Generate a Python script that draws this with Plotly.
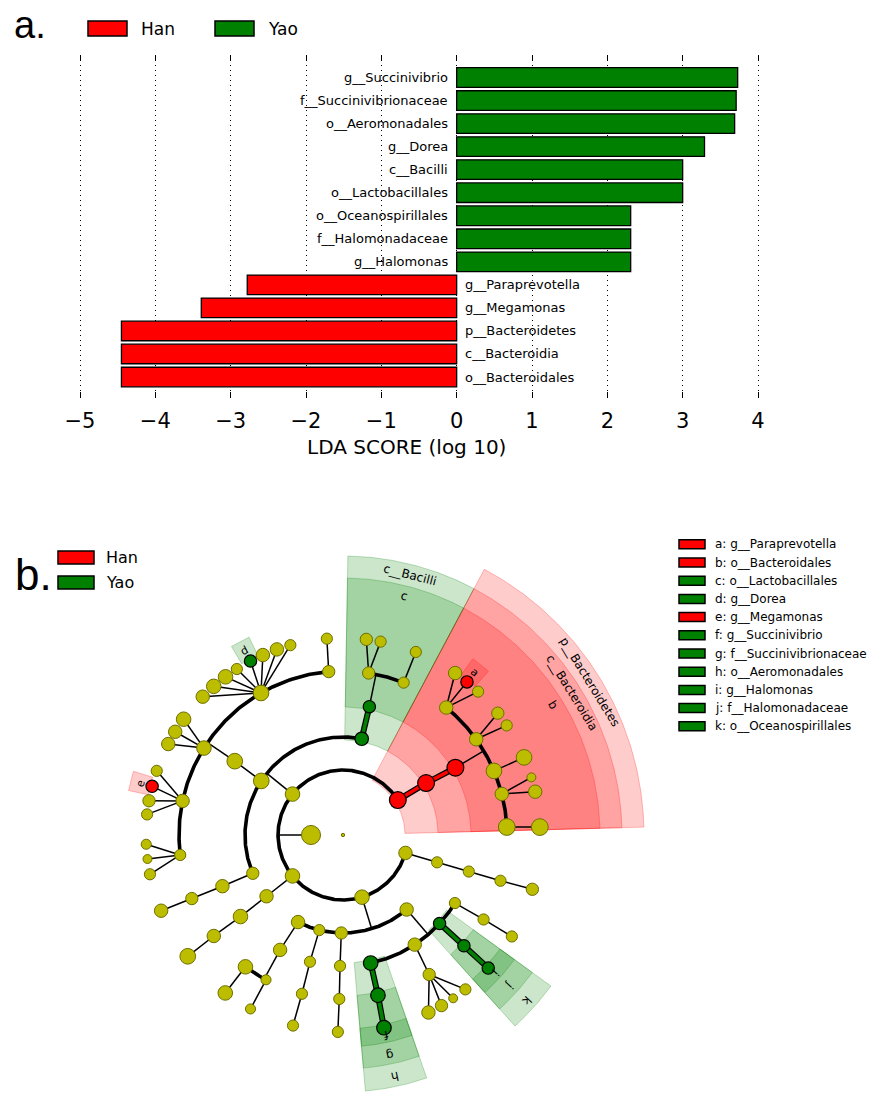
import math
import plotly.graph_objects as go

W, H = 869, 1093

# ---------------- LDA score bar chart ----------------
taxa = [
    "g__Succinivibrio", "f__Succinivibrionaceae", "o__Aeromonadales", "g__Dorea",
    "c__Bacilli", "o__Lactobacillales", "o__Oceanospirillales", "f__Halomonadaceae",
    "g__Halomonas", "g__Paraprevotella", "g__Megamonas", "p__Bacteroidetes",
    "c__Bacteroidia", "o__Bacteroidales",
]
lda_scores = [3.73, 3.71, 3.69, 3.29, 3.00, 3.00, 2.31, 2.31, 2.31,
              -2.78, -3.39, -4.45, -4.45, -4.45]
enriched_in = ["Yao"] * 9 + ["Han"] * 5
lda_ticks = [-5, -4, -3, -2, -1, 0, 1, 2, 3, 4]

groups = ["Han", "Yao"]
GROUP_COLORS = {"Han": "#ff0000", "Yao": "#008000"}
GROUP_RGB = {"Han": (255, 0, 0), "Yao": (0, 128, 0)}

# ---------------- cladogram ----------------
# radius of each taxonomic rank ring: root, kingdom, phylum, class, order, family, genus
LEVEL_RADIUS = [0, 32, 65, 98, 131, 164, 197]
# outer edge and label ring of the clade highlight bands, per rank
BAND_OUTER = {2: 301, 3: 279, 4: 257, 5: 234, 6: 212}
BAND_LABEL = {2: 290, 3: 269, 4: 247, 5: 225, 6: 205}
NODE_SCALE = 1.12

# (id, parent, angle in degrees, node size, enriched group)
kingdom = [("k__Bacteria", "root", 180, 17, None)]
phyla = [
    ("p__Bacteroidetes", "k__Bacteria", 32.5, 15, "Han"),
    ("p2", "k__Bacteria", 141, 13, None),
    ("p3", "k__Bacteria", 219, 13, None),
    ("p4", "k__Bacteria", 287, 13, None),
    ("p5", "k__Bacteria", 344, 12, None),
]
classes = [
    ("c__Bacteroidia", "p__Bacteroidetes", 32, 15, "Han"),
    ("c__Bacilli", "p2", 79, 12, "Yao"),
    ("c2", "p2", 146.5, 14, None),
    ("c3", "p2", 203, 11, None),
    ("c4", "p3", 218.7, 12, None),
    ("c5", "p4", 242.7, 12, None),
    ("c6", "p4", 256, 10, None),
    ("c7", "p4", 269, 11, None),
    ("c8", "p4", 310.5, 12, None),
    ("c9", "p5", 343.8, 10, None),
]
orders = [
    ("o__Bacteroidales", "c__Bacteroidia", 30.9, 15, "Han"),
    ("o__Lactobacillales", "c__Bacilli", 78.4, 11, "Yao"),
    ("o2", "c2", 145.7, 14, None),
    ("o3", "c3", 203, 12, None),
    ("o4", "c4", 218.5, 13, None),
    ("o5", "c5", 241.3, 12, None),
    ("o6", "c6", 255.4, 10, None),
    ("o7", "c7", 268.7, 10, None),
    ("o__Aeromonadales", "c8", 282.2, 13, "Yao"),
    ("o8", "c8", 303.2, 12, None),
    ("o__Oceanospirillales", "c8", 317.5, 11, "Yao"),
    ("o9", "c8", 328.7, 10, None),
    ("o10", "c9", 343.8, 10, None),
]
families = [
    ("f1", "o__Bacteroidales", 51, 12, None),
    ("f2", "o__Bacteroidales", 35.7, 12, None),
    ("f3", "o__Bacteroidales", 23, 14, None),
    ("f4", "o__Bacteroidales", 14.5, 12, None),
    ("f5", "o__Bacteroidales", 2.8, 15, None),
    ("f6", "o__Lactobacillales", 81, 11, None),
    ("f7", "o__Lactobacillales", 68.3, 10, None),
    ("f8", "o2", 95, 11, None),
    ("f9", "o2", 120, 14, None),
    ("f10", "o2", 148, 13, None),
    ("f11", "o2", 168, 12, None),
    ("f12", "o2", 187, 10, None),
    ("f13", "o3", 202.8, 11, None),
    ("f14", "o4", 218, 12, None),
    ("f15", "o5", 242, 9, None),
    ("f16", "o5", 233.5, 13, None),
    ("f17", "o6", 255.5, 10, None),
    ("f18", "o7", 268.7, 10, None),
    ("f__Succinivibrionaceae", "o__Aeromonadales", 282.3, 13, "Yao"),
    ("f19", "o8", 301.7, 11, None),
    ("f__Halomonadaceae", "o__Oceanospirillales", 317.5, 11, "Yao"),
    ("f20", "o9", 329, 10, None),
    ("f21", "o10", 343.8, 10, None),
]
genera = [
    ("g1", "f1", 55.3, 12, None),
    ("g__Paraprevotella", "f1", 51, 11, "Han"),
    ("g2", "f1", 46.7, 10, None),
    ("g3", "f2", 38.2, 11, None),
    ("g4", "f2", 33.8, 10, None),
    ("g5", "f3", 23.2, 14, None),
    ("g6", "f4", 17, 8, None),
    ("g7", "f4", 12.7, 12, None),
    ("g8", "f5", 2.3, 15, None),
    ("g9", "f6", 83.2, 11, None),
    ("g10", "f6", 79, 10, None),
    ("g11", "f7", 68.3, 10, None),
    ("g12", "f8", 94.7, 10, None),
    ("g13", "f9", 135.4, 12, None),
    ("g14", "f9", 131, 13, None),
    ("g15", "f9", 126.6, 13, None),
    ("g16", "f9", 122.6, 10, None),
    ("g__Dorea", "f9", 118, 11, "Yao"),
    ("g17", "f9", 114, 12, None),
    ("g18", "f9", 109.6, 12, None),
    ("g19", "f9", 105.5, 10, None),
    ("g20", "f10", 144, 13, None),
    ("g21", "f10", 148.4, 12, None),
    ("g22", "f10", 152.5, 12, None),
    ("g23", "f11", 161, 10, None),
    ("g__Megamonas", "f11", 165.7, 11, "Han"),
    ("g24", "f11", 170, 11, None),
    ("g25", "f11", 174, 10, None),
    ("g26", "f12", 182.7, 9, None),
    ("g27", "f12", 187, 8, None),
    ("g28", "f12", 191.5, 10, None),
    ("g29", "f13", 202.6, 12, None),
    ("g30", "f14", 218, 14, None),
    ("g31", "f15", 242, 9, None),
    ("g32", "f16", 233.3, 13, None),
    ("g33", "f17", 255.3, 10, None),
    ("g34", "f18", 268.5, 10, None),
    ("g__Succinivibrio", "f__Succinivibrionaceae", 282, 13, "Yao"),
    ("g35", "f19", 295.7, 12, None),
    ("g36", "f19", 300, 11, None),
    ("g37", "f19", 304, 8, None),
    ("g38", "f19", 308.4, 10, None),
    ("g__Halomonas", "f__Halomonadaceae", 317.5, 11, "Yao"),
    ("g39", "f20", 329, 10, None),
    ("g40", "f21", 344, 11, None),
]

# highlighted clades drawn as bands: (label, group, rank level, start deg, end deg)
clade_bands = [
    ("p__Bacteroidetes", "Han", 2, 1.5, 62),
    ("c__Bacteroidia", "Han", 3, 1.5, 62),
    ("b", "Han", 4, 1.5, 62),
    ("c__Bacilli", "Yao", 3, 62, 89),
    ("c", "Yao", 4, 62, 89),
    ("h", "Yao", 4, 275, 289),
    ("g", "Yao", 5, 275, 289),
    ("f", "Yao", 6, 275, 289),
    ("k", "Yao", 4, 312, 324),
    ("j", "Yao", 5, 312, 324),
    ("i", "Yao", 6, 312, 324),
]
# highlighted leaves drawn as small tagged boxes: (letter, node id)
leaf_tags = [("a", "g__Paraprevotella"), ("d", "g__Dorea"), ("e", "g__Megamonas")]

# key of the cladogram letters
clade_key = [
    ("a", "g__Paraprevotella", "Han"),
    ("b", "o__Bacteroidales", "Han"),
    ("c", "o__Lactobacillales", "Yao"),
    ("d", "g__Dorea", "Yao"),
    ("e", "g__Megamonas", "Han"),
    ("f", "g__Succinivibrio", "Yao"),
    ("g", "f__Succinivibrionaceae", "Yao"),
    ("h", "o__Aeromonadales", "Yao"),
    ("i", "g__Halomonas", "Yao"),
    ("j", "f__Halomonadaceae", "Yao"),
    ("k", "o__Oceanospirillales", "Yao"),
]

# ---------------- helpers ----------------
FONT = "DejaVu Sans"


def px(x):
    return x / W


def py(y):
    return 1 - y / H


def polar(r, deg):
    a = math.radians(deg)
    return r * math.cos(a), r * math.sin(a)


def arc_points(r, a0, a1, step=0.5):
    n = max(2, int(abs(a1 - a0) / step) + 1)
    pts = [polar(r, a0 + (a1 - a0) * k / (n - 1)) for k in range(n)]
    return [p[0] for p in pts], [p[1] for p in pts]


def rgba(group, alpha):
    r, g, b = GROUP_RGB[group]
    return f"rgba({r},{g},{b},{alpha})"


def text_angle(deg):
    t = 90 - deg
    while t > 180:
        t -= 360
    while t <= -180:
        t += 360
    return t


def paper_text(x, y, text, size, family=FONT, xanchor="center"):
    return dict(x=px(x), y=py(y), xref="paper", yref="paper", text=text,
                showarrow=False, xanchor=xanchor, yanchor="middle",
                font=dict(family=family, size=size, color="black"))


fig = go.Figure()

# ---- bars ----
rows = list(range(len(taxa)))
for grp in groups:
    idx = [i for i in rows if enriched_in[i] == grp]
    fig.add_trace(go.Bar(
        x=[lda_scores[i] for i in idx], y=[rows[i] for i in idx],
        orientation="h", width=0.85, name=grp, showlegend=False,
        marker=dict(color=GROUP_COLORS[grp], line=dict(color="black", width=1.3)),
        xaxis="x", yaxis="y", hoverinfo="skip",
    ))

annotations = []
for i, (name, val) in enumerate(zip(taxa, lda_scores)):
    annotations.append(dict(
        x=0, y=rows[i], xref="x", yref="y", text=name, showarrow=False,
        xanchor="right" if val > 0 else "left", yanchor="middle",
        xshift=-7 if val > 0 else 6,
        font=dict(family=FONT, size=13, color="black"),
    ))

# ---- cladogram tree ----
all_nodes = {"root": ("root", None, 0, 3, None, 0)}
for level, table in enumerate([kingdom, phyla, classes, orders, families, genera], start=1):
    for nid, parent, ang, size, grp in table:
        all_nodes[nid] = (nid, parent, ang, size, grp, level)

children = {k: [] for k in all_nodes}
for nid, rec in all_nodes.items():
    if rec[1] is not None:
        children[rec[1]].append(nid)


def node_xy(nid):
    rec = all_nodes[nid]
    return polar(LEVEL_RADIUS[rec[5]], rec[2])


# highlight bands
shapes = []
for label, grp, level, a0, a1 in clade_bands:
    r_in = LEVEL_RADIUS[level] - 3
    r_out = BAND_OUTER[level]
    xi, yi = arc_points(r_in, a0, a1)
    xo, yo = arc_points(r_out, a1, a0)
    fig.add_trace(go.Scatter(
        x=xi + xo + [xi[0]], y=yi + yo + [yi[0]], mode="lines", fill="toself",
        fillcolor=rgba(grp, 0.2), line=dict(color=rgba(grp, 0.25), width=1),
        xaxis="x2", yaxis="y2", showlegend=False, hoverinfo="skip",
    ))
    mid = (a0 + a1) / 2
    lx, ly = polar(BAND_LABEL[level], mid)
    annotations.append(dict(
        x=lx, y=ly, xref="x2", yref="y2", text=label, showarrow=False,
        xanchor="center", yanchor="middle",
        textangle=text_angle(mid), font=dict(family=FONT, size=12, color="black"),
    ))

for letter, nid in leaf_tags:
    rec = all_nodes[nid]
    grp, ang = rec[4], rec[2]
    xi, yi = arc_points(199, ang - 2.6, ang + 2.6, 0.2)
    xo, yo = arc_points(219, ang + 2.6, ang - 2.6, 0.2)
    fig.add_trace(go.Scatter(
        x=xi + xo + [xi[0]], y=yi + yo + [yi[0]], mode="lines", fill="toself",
        fillcolor=rgba(grp, 0.2), line=dict(color=rgba(grp, 0.25), width=1),
        xaxis="x2", yaxis="y2", showlegend=False, hoverinfo="skip",
    ))
    lx, ly = polar(209, ang)
    annotations.append(dict(
        x=lx, y=ly, xref="x2", yref="y2", text=letter, showarrow=False,
        xanchor="center", yanchor="middle",
        textangle=text_angle(ang), font=dict(family=FONT, size=11, color="black"),
    ))

# branches
thin_x, thin_y, arc_x, arc_y = [], [], [], []
colored = {g: ([], []) for g in groups}
for pid, kids in children.items():
    if pid == "root" or not kids:
        continue
    prec = all_nodes[pid]
    plevel = prec[5]
    px0, py0 = node_xy(pid)
    if len(kids) == 1 or plevel + 1 == 6:
        for c in kids:
            cx, cy = node_xy(c)
            cg = all_nodes[c][4]
            if cg is not None and cg == prec[4]:
                colored[cg][0].extend([px0, cx, None])
                colored[cg][1].extend([py0, cy, None])
            else:
                thin_x.extend([px0, cx, None])
                thin_y.extend([py0, cy, None])
    else:
        rc = LEVEL_RADIUS[plevel + 1]
        angs = [all_nodes[c][2] for c in kids] + [prec[2]]
        ax, ay = arc_points(rc, min(angs), max(angs))
        arc_x.extend(ax + [None])
        arc_y.extend(ay + [None])
        ex, ey = polar(rc, prec[2])
        thin_x.extend([px0, ex, None])
        thin_y.extend([py0, ey, None])

fig.add_trace(go.Scatter(x=thin_x, y=thin_y, mode="lines",
                         line=dict(color="black", width=1.5),
                         xaxis="x2", yaxis="y2", showlegend=False, hoverinfo="skip"))
fig.add_trace(go.Scatter(x=arc_x, y=arc_y, mode="lines",
                         line=dict(color="black", width=3.6),
                         xaxis="x2", yaxis="y2", showlegend=False, hoverinfo="skip"))
for grp in groups:
    cx, cy = colored[grp]
    fig.add_trace(go.Scatter(x=cx, y=cy, mode="lines", line=dict(color="black", width=6),
                             xaxis="x2", yaxis="y2", showlegend=False, hoverinfo="skip"))
    fig.add_trace(go.Scatter(x=cx, y=cy, mode="lines", line=dict(color=GROUP_COLORS[grp], width=3.6),
                             xaxis="x2", yaxis="y2", showlegend=False, hoverinfo="skip"))

# nodes
for grp in [None] + groups:
    ids = [k for k, rec in all_nodes.items() if rec[4] == grp]
    xs = [node_xy(k)[0] for k in ids]
    ys = [node_xy(k)[1] for k in ids]
    sizes = [all_nodes[k][3] * NODE_SCALE for k in ids]
    if grp is None:
        marker = dict(color="#bdbd00", size=sizes, opacity=1,
                      line=dict(color="#6e6e00", width=1))
    else:
        marker = dict(color=GROUP_COLORS[grp], size=sizes, opacity=1,
                      line=dict(color="black", width=1.2))
    fig.add_trace(go.Scatter(x=xs, y=ys, mode="markers", marker=marker,
                             xaxis="x2", yaxis="y2", showlegend=False, hoverinfo="skip"))

# ---- legends and panel letters ----
annotations.append(paper_text(30, 25, "a.", 38, family="Liberation Sans"))
annotations.append(paper_text(33, 574, "b.", 44, family="Liberation Sans"))

for k, grp in enumerate(groups):
    x0 = 88 + 127 * k
    shapes.append(dict(type="rect", xref="paper", yref="paper", x0=px(x0), x1=px(x0 + 39),
                       y0=py(36), y1=py(21), fillcolor=GROUP_COLORS[grp],
                       line=dict(color="black", width=1.5)))
    annotations.append(paper_text(x0 + 51, 29, grp, 17, xanchor="left"))

for k, grp in enumerate(groups):
    yc = 557.5 + 25 * k
    shapes.append(dict(type="rect", xref="paper", yref="paper", x0=px(58), x1=px(94),
                       y0=py(yc + 6.5), y1=py(yc - 6.5), fillcolor=GROUP_COLORS[grp],
                       line=dict(color="black", width=1.5)))
    annotations.append(paper_text(104, yc, grp, 16, xanchor="left"))

for k, (letter, name, grp) in enumerate(clade_key):
    yc = 544.3 + 18.2 * k
    shapes.append(dict(type="rect", xref="paper", yref="paper", x0=px(679), x1=px(705),
                       y0=py(yc + 4.5), y1=py(yc - 4.5), fillcolor=GROUP_COLORS[grp],
                       line=dict(color="black", width=1.5)))
    annotations.append(paper_text(713, yc, f"{letter}: {name}", 12, xanchor="left"))

annotations.append(paper_text(406, 447, "LDA SCORE (log 10)", 20))

# ---- layout ----
row_top, row_step = 77.5, 23.04
ax_top, ax_bot = 55, 398
x_pad = 0.02                       # keeps the end gridlines inside the plot area
unit_px = (758 - 80) / 9.0
fig.update_layout(
    width=W, height=H, autosize=False,
    margin=dict(l=0, r=0, t=0, b=0, pad=0, autoexpand=False),
    paper_bgcolor="white", plot_bgcolor="rgba(0,0,0,0)",
    bargap=0.15, showlegend=False,
    xaxis=dict(domain=[px(80 - x_pad * unit_px), px(758 + x_pad * unit_px)],
               range=[-5 - x_pad, 4 + x_pad], tickvals=lda_ticks,
               showgrid=True, gridcolor="black", griddash="1px,4px", gridwidth=1,
               zeroline=False, showline=True, linecolor="rgba(0,0,0,0)",
               ticks="inside", ticklen=6,
               tickcolor="black", mirror="ticks", ticklabelstandoff=4,
               automargin=False,
               tickfont=dict(family=FONT, size=21, color="black"), anchor="y"),
    yaxis=dict(domain=[py(ax_bot), py(ax_top)],
               range=[(ax_bot - row_top) / row_step, (ax_top - row_top) / row_step],
               visible=False, anchor="x", automargin=False),
    xaxis2=dict(domain=[0, 1], range=[-343, W - 343], visible=False, anchor="y2",
                automargin=False),
    yaxis2=dict(domain=[0, py(480)], range=[-(H - 835), 835 - 480], visible=False,
                anchor="x2", automargin=False),
    shapes=shapes, annotations=annotations,
)

fig.write_html("out.html", config={"responsive": False})
